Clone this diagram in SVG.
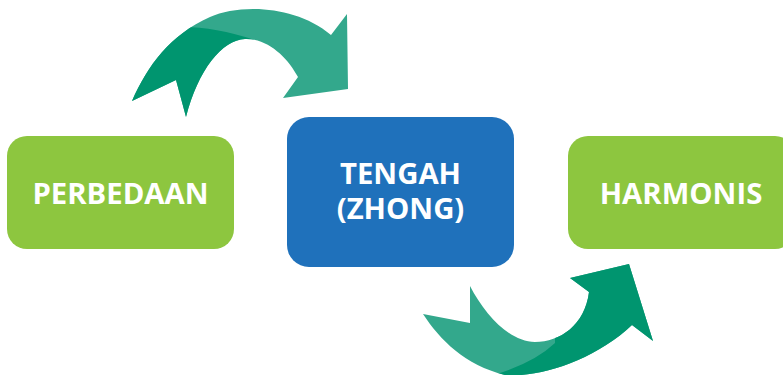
<svg xmlns="http://www.w3.org/2000/svg" width="783" height="375" viewBox="0 0 783 375">
<style>
.green{fill:#8dc63f}
.blue{fill:#1f71bb}
.lbl{font-family:"Open Sans","Liberation Sans",sans-serif;font-weight:bold;font-size:29.3px;fill:#ffffff;text-anchor:middle}
.light{fill:#33a88c}
.dark{fill:#00956f}
</style>
<defs>
<path id="topArrow" d="M132,101 C148,65 170,35 210,17 C240,4 295,5 331,35 L347,14 L348,89 L283,98 L298,77 C288,58 268,38 245,39 C222,40 198,70 186,117 L176,80 Z"/>
<path id="botArrow" d="M423,314 C440,340 465,365 505,375 C540,378 595,360 632,325 L653,341 L629,264 L570,278 L589,292 C585,325 560,342 535,342 C510,342 485,315 470,286 L470,323 Z"/>
<clipPath id="clipTop"><use href="#topArrow"/></clipPath>
<clipPath id="clipBot"><use href="#botArrow"/></clipPath>
</defs>
<rect width="783" height="375" fill="#ffffff"/>
<g id="connectors">
<g id="arrow-top">
<use href="#topArrow" class="light"/>
<path class="dark" clip-path="url(#clipTop)" d="M255,40 Q215,27 183,27 L150,20 L100,130 L260,130 Z"/>
</g>
<g id="arrow-bottom">
<use href="#botArrow" class="light"/>
<path class="dark" clip-path="url(#clipBot)" d="M555,343 L556,250 L700,250 L700,400 L490,400 L497,374 Q535,362 555,343 Z"/>
</g>
</g>
<g id="node-perbedaan">
<rect class="green" x="7" y="136" width="227" height="113" rx="20"/>
<text class="lbl" x="120.5" y="204">PERBEDAAN</text>
</g>
<g id="node-tengah">
<rect class="blue" x="287" y="117" width="227" height="150" rx="22"/>
<text class="lbl" x="400.5" y="184">TENGAH</text>
<text class="lbl" x="400.5" y="219">(ZHONG)</text>
</g>
<g id="node-harmonis">
<rect class="green" x="568" y="136" width="227" height="113" rx="20"/>
<text class="lbl" x="681" y="204">HARMONIS</text>
</g>
</svg>
